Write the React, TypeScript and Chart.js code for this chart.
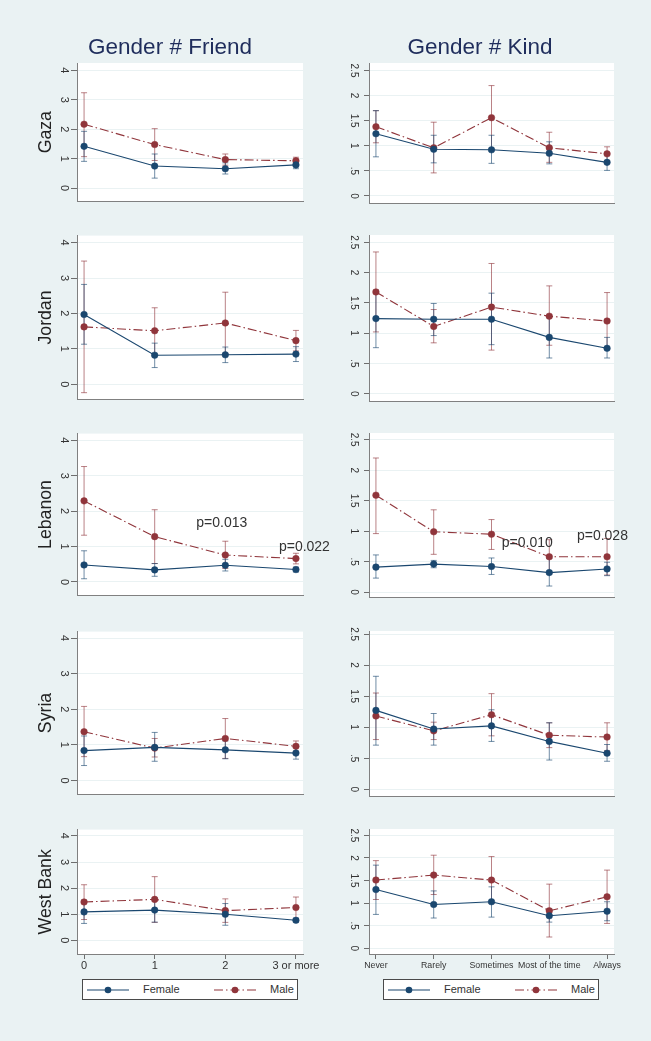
import React, { useEffect, useRef } from 'react';
import { Chart, registerables } from 'chart.js';

Chart.register(...registerables);
Chart.defaults.font.family = "'Liberation Sans', Arial, sans-serif";

// ---------- data ----------
const countries = ['Gaza', 'Jordan', 'Lebanon', 'Syria', 'West Bank'];
const panelTitles = ['Gender # Friend', 'Gender # Kind'];
const seriesNames = ['Female', 'Male'];

const friendCategories = ['0', '1', '2', '3 or more'];
const kindCategories = ['Never', 'Rarely', 'Sometimes', 'Most of the time', 'Always'];

const friendYTicks = [0, 1, 2, 3, 4];
const friendYTickLabels = ['0', '1', '2', '3', '4'];
const kindYTicks = [0, 0.5, 1, 1.5, 2, 2.5];
const kindYTickLabels = ['0', '.5', '1', '1.5', '2', '2.5'];

// rows: Gaza, Jordan, Lebanon, Syria, West Bank
const friendFemaleMean = [
  [1.42, 0.75, 0.66, 0.79],
  [1.97, 0.82, 0.83, 0.85],
  [0.48, 0.34, 0.47, 0.35],
  [0.84, 0.93, 0.86, 0.77],
  [1.09, 1.16, 1.0, 0.77],
];
const friendFemaleLow = [
  [0.91, 0.34, 0.48, 0.66],
  [1.13, 0.47, 0.61, 0.64],
  [0.09, 0.16, 0.31, 0.28],
  [0.42, 0.54, 0.61, 0.6],
  [0.65, 0.7, 0.58, 0.7],
];
const friendFemaleHigh = [
  [1.93, 1.16, 0.86, 0.94],
  [2.82, 1.16, 1.05, 1.06],
  [0.88, 0.52, 0.64, 0.42],
  [1.25, 1.35, 1.11, 0.94],
  [1.54, 1.62, 1.41, 0.85],
];
const friendMaleMean = [
  [2.17, 1.48, 0.97, 0.93],
  [1.62, 1.51, 1.73, 1.23],
  [2.29, 1.28, 0.76, 0.66],
  [1.37, 0.91, 1.18, 0.96],
  [1.47, 1.57, 1.14, 1.26],
];
const friendMaleLow = [
  [1.07, 0.94, 0.78, 0.8],
  [-0.24, 0.85, 0.86, 0.94],
  [1.32, 0.52, 0.38, 0.51],
  [0.67, 0.66, 0.62, 0.82],
  [0.8, 0.69, 0.69, 0.83],
];
const friendMaleHigh = [
  [3.24, 2.02, 1.16, 1.05],
  [3.48, 2.16, 2.6, 1.52],
  [3.26, 2.04, 1.15, 0.81],
  [2.08, 1.18, 1.74, 1.11],
  [2.13, 2.44, 1.59, 1.66],
];

const kindFemaleMean = [
  [1.24, 0.93, 0.92, 0.85, 0.67],
  [1.24, 1.23, 1.23, 0.93, 0.75],
  [0.41, 0.46, 0.42, 0.32, 0.38],
  [1.27, 0.97, 1.02, 0.77, 0.58],
  [1.3, 0.97, 1.03, 0.72, 0.82],
];
const kindFemaleLow = [
  [0.78, 0.66, 0.65, 0.64, 0.51],
  [0.76, 0.96, 0.81, 0.59, 0.59],
  [0.23, 0.4, 0.29, 0.1, 0.27],
  [0.71, 0.71, 0.77, 0.47, 0.45],
  [0.75, 0.67, 0.69, 0.58, 0.61],
];
const kindFemaleHigh = [
  [1.7, 1.21, 1.21, 1.08, 0.82],
  [1.71, 1.49, 1.66, 1.27, 0.93],
  [0.61, 0.52, 0.56, 0.55, 0.49],
  [1.82, 1.22, 1.28, 1.07, 0.72],
  [1.84, 1.27, 1.36, 0.87, 1.03],
];
const kindMaleMean = [
  [1.38, 0.96, 1.56, 0.96, 0.84],
  [1.68, 1.11, 1.43, 1.28, 1.2],
  [1.59, 0.99, 0.95, 0.58, 0.58],
  [1.18, 0.94, 1.2, 0.87, 0.84],
  [1.51, 1.62, 1.51, 0.83, 1.14],
];
const kindMaleLow = [
  [1.06, 0.46, 0.92, 0.67, 0.7],
  [1.02, 0.84, 0.72, 0.8, 0.73],
  [0.96, 0.62, 0.7, 0.3, 0.28],
  [0.8, 0.8, 0.86, 0.67, 0.62],
  [1.08, 1.19, 0.99, 0.25, 0.55],
];
const kindMaleHigh = [
  [1.7, 1.47, 2.2, 1.27, 0.98],
  [2.34, 1.39, 2.15, 1.78, 1.67],
  [2.2, 1.35, 1.19, 0.86, 0.88],
  [1.55, 1.08, 1.54, 1.07, 1.07],
  [1.94, 2.06, 2.03, 1.42, 1.73],
];

// p-value notes (in data coordinates)
type Note = { label: string; x: number; y: number };
const friendNotes: Note[][] = [
  [],
  [],
  [
    { label: 'p=0.013', x: 1.95, y: 1.66 },
    { label: 'p=0.022', x: 3.12, y: 0.99 },
  ],
  [],
  [],
];
const kindNotes: Note[][] = [
  [],
  [],
  [
    { label: 'p=0.010', x: 2.62, y: 0.81 },
    { label: 'p=0.028', x: 3.92, y: 0.915 },
  ],
  [],
  [],
];

// ---------- styling / layout ----------
const BG = '#eaf2f3';
const FEMALE = '#1a476f';
const MALE = '#90353b';
const FEMALE_CI = 'rgba(26,71,111,0.62)';
const MALE_CI = 'rgba(144,53,59,0.62)';
const AXIS = '#808080';
const TICK = '#6e6e6e';
const TEXT = '#333333';

// boxLeft chosen so that the title (centred between boxLeft and plotRight) sits where it should
const colSpec = [
  { left: 0, width: 340, boxLeft: 37, plotLeft: 77, plotRight: 303, xMin: -0.1, xMax: 3.1, tickLen: 6, tickPad: 4, tickFont: 11, xFont: 11, xPad: 0 },
  { left: 330, width: 300, boxLeft: 346, plotLeft: 369, plotRight: 614, xMin: -0.12, xMax: 4.12, tickLen: 5, tickPad: 3, tickFont: 10, xFont: 8.8, xPad: 1.5 },
];
const rowSpec = [
  { top: 63, bottom: 209 },
  { top: 235, bottom: 407 },
  { top: 433, bottom: 603 },
  { top: 631, bottom: 802 },
  { top: 829, bottom: 954 },
];
const friendRange = [
  [-0.45, 4.25],
  [-0.43, 4.2],
  [-0.38, 4.19],
  [-0.39, 4.18],
  [-0.52, 4.24],
];
const kindRange = [
  [-0.14, 2.65],
  [-0.12, 2.62],
  [-0.08, 2.61],
  [-0.11, 2.55],
  [-0.126, 2.64],
];

const X_AXIS_H = 22;
const LAST_BOTTOM = 978;

function ciData(low: number[], high: number[]) {
  const out: any[] = [];
  low.forEach((lo, i) => {
    out.push({ x: i, y: lo });
    out.push({ x: i, y: high[i] });
    out.push({ x: i, y: null });
  });
  return out;
}
function meanData(mean: number[]) {
  return mean.map((v, i) => ({ x: i, y: v }));
}

const plotBgPlugin = {
  id: 'plotBg',
  beforeDraw(chart: any) {
    const { ctx, chartArea } = chart;
    ctx.save();
    ctx.fillStyle = '#ffffff';
    ctx.fillRect(chartArea.left, chartArea.top, chartArea.right - chartArea.left, chartArea.bottom - chartArea.top);
    ctx.restore();
  },
};

const notesPlugin = {
  id: 'pNotes',
  afterDraw(chart: any, _args: any, opts: any) {
    const notes: Note[] = opts.notes || [];
    if (!notes.length) return;
    const { ctx, scales } = chart;
    ctx.save();
    ctx.font = "14px 'Liberation Sans', Arial, sans-serif";
    ctx.fillStyle = '#333333';
    ctx.textAlign = 'center';
    ctx.textBaseline = 'middle';
    notes.forEach((n) => {
      ctx.fillText(n.label, scales.x.getPixelForValue(n.x), scales.y.getPixelForValue(n.y));
    });
    ctx.restore();
  },
};

function buildConfig(col: number, row: number): any {
  const c = colSpec[col];
  const r = rowSpec[row];
  const isFriend = col === 0;
  const cats = isFriend ? friendCategories : kindCategories;
  const yTicks = isFriend ? friendYTicks : kindYTicks;
  const yLabels = isFriend ? friendYTickLabels : kindYTickLabels;
  const range = (isFriend ? friendRange : kindRange)[row];
  const fm = (isFriend ? friendFemaleMean : kindFemaleMean)[row];
  const fl = (isFriend ? friendFemaleLow : kindFemaleLow)[row];
  const fh = (isFriend ? friendFemaleHigh : kindFemaleHigh)[row];
  const mm = (isFriend ? friendMaleMean : kindMaleMean)[row];
  const ml = (isFriend ? friendMaleLow : kindMaleLow)[row];
  const mh = (isFriend ? friendMaleHigh : kindMaleHigh)[row];
  const notes = (isFriend ? friendNotes : kindNotes)[row];
  const isLast = row === rowSpec.length - 1;
  const canvasTop = row === 0 ? 0 : r.top - 10;
  const xH = isLast ? X_AXIS_H : 0;
  const padBottom = isLast ? LAST_BOTTOM - r.bottom - xH : 3;

  const titleFont = 22.5;
  const titleLH = titleFont * 1.2;
  const titleTopPad = 47.7 - titleLH / 2;
  const yTitleFont = 17.7;

  return {
    type: 'line',
    data: {
      datasets: [
        {
          label: seriesNames[0],
          data: meanData(fm),
          borderColor: FEMALE,
          backgroundColor: FEMALE,
          borderWidth: 1.1,
          pointRadius: 3.3,
          pointBackgroundColor: FEMALE,
          pointBorderColor: FEMALE,
          pointBorderWidth: 0.5,
          tension: 0,
        },
        {
          label: seriesNames[1],
          data: meanData(mm),
          borderColor: MALE,
          backgroundColor: MALE,
          borderWidth: 1.1,
          borderDash: [9, 3, 1.5, 3],
          pointRadius: 3.3,
          pointBackgroundColor: MALE,
          pointBorderColor: MALE,
          pointBorderWidth: 0.5,
          tension: 0,
        },
        {
          label: seriesNames[0] + ' CI',
          data: ciData(fl, fh),
          borderColor: FEMALE_CI,
          borderWidth: 1,
          pointStyle: 'line',
          pointRadius: 3,
          pointBorderColor: FEMALE_CI,
          pointBorderWidth: 1,
          spanGaps: false,
        },
        {
          label: seriesNames[1] + ' CI',
          data: ciData(ml, mh),
          borderColor: MALE_CI,
          borderWidth: 1,
          pointStyle: 'line',
          pointRadius: 3,
          pointBorderColor: MALE_CI,
          pointBorderWidth: 1,
          spanGaps: false,
        },
      ],
    },
    options: {
      responsive: false,
      animation: false,
      events: [],
      layout: {
        padding: {
          left: c.boxLeft - c.left,
          right: c.left + c.width - c.plotRight,
          top: row === 0 ? 0 : r.top - canvasTop,
          bottom: padBottom,
        },
      },
      plugins: {
        legend: { display: false },
        tooltip: { enabled: false },
        title: {
          display: row === 0,
          text: panelTitles[col],
          color: '#1f2d5c',
          font: { size: titleFont, weight: 'normal', lineHeight: 1.2 },
          padding: { top: titleTopPad, bottom: r.top - titleTopPad - titleLH },
        },
        pNotes: { notes },
      },
      scales: {
        x: {
          type: 'linear',
          min: c.xMin,
          max: c.xMax,
          afterBuildTicks: (scale: any) => {
            scale.ticks = cats.map((_, i) => ({ value: i }));
          },
          afterFit: (scale: any) => {
            scale.height = xH;
          },
          ticks: {
            display: isLast,
            autoSkip: false,
            minRotation: 0,
            maxRotation: 0,
            padding: c.xPad,
            color: TEXT,
            font: { size: c.xFont },
            callback: (v: any) => cats[v],
          },
          grid: {
            display: true,
            drawOnChartArea: false,
            drawTicks: isLast,
            tickLength: 5,
            tickColor: TICK,
            tickWidth: 1,
          },
          border: { display: true, color: AXIS, width: 1 },
        },
        y: {
          type: 'linear',
          min: range[0],
          max: range[1],
          afterBuildTicks: (scale: any) => {
            scale.ticks = yTicks.map((v) => ({ value: v }));
          },
          afterFit: (scale: any) => {
            scale.width = c.plotLeft - c.boxLeft;
          },
          ticks: {
            minRotation: -90,
            maxRotation: -90,
            crossAlign: 'center',
            padding: c.tickPad,
            color: TEXT,
            font: { size: c.tickFont },
            callback: (_v: any, i: number) => yLabels[i],
          },
          grid: {
            color: BG,
            lineWidth: 1,
            drawTicks: true,
            tickLength: c.tickLen,
            tickColor: TICK,
            tickWidth: 1,
          },
          border: { display: true, color: AXIS, width: 1 },
          title: {
            display: col === 0,
            text: countries[row],
            color: '#222222',
            font: { size: yTitleFont, lineHeight: 1 },
            padding: { top: 45.8 - c.boxLeft - yTitleFont / 2, bottom: 0 },
          },
        },
      },
    },
    plugins: [plotBgPlugin, notesPlugin],
  };
}

function Panel({ col, row }: { col: number; row: number }) {
  const ref = useRef<HTMLCanvasElement>(null);
  const c = colSpec[col];
  const r = rowSpec[row];
  const top = row === 0 ? 0 : r.top - 10;
  const bottom = row === rowSpec.length - 1 ? LAST_BOTTOM : r.bottom + 3;
  const h = bottom - top;
  useEffect(() => {
    const chart = new Chart(ref.current as HTMLCanvasElement, buildConfig(col, row));
    return () => chart.destroy();
  }, [col, row]);
  return (
    <canvas
      ref={ref}
      width={c.width}
      height={h}
      style={{ position: 'absolute', left: c.left, top, width: c.width, height: h }}
    />
  );
}

function Symbol({ color, dashed }: { color: string; dashed: boolean }) {
  return (
    <svg width={42} height={10} style={{ position: 'absolute', left: 0, top: 5 }}>
      <line
        x1={0}
        y1={5}
        x2={42}
        y2={5}
        stroke={color}
        strokeWidth={1.1}
        strokeDasharray={dashed ? '9 3 1.5 3' : undefined}
      />
      <circle cx={21} cy={5} r={3.3} fill={color} />
    </svg>
  );
}

function Legend({ left }: { left: number }) {
  const items = [
    { name: seriesNames[0], color: FEMALE, dashed: false, sym: 4, text: 60 },
    { name: seriesNames[1], color: MALE, dashed: true, sym: 131, text: 187 },
  ];
  return (
    <div
      style={{
        position: 'absolute',
        left,
        top: 979,
        width: 214,
        height: 19,
        background: '#ffffff',
        border: '1px solid #4a4a4a',
        fontFamily: "'Liberation Sans', Arial, sans-serif",
        fontSize: 11,
        color: TEXT,
      }}
    >
      {items.map((it) => (
        <React.Fragment key={it.name}>
          <div style={{ position: 'absolute', left: it.sym, top: 0, width: 42, height: 19 }}>
            <Symbol color={it.color} dashed={it.dashed} />
          </div>
          <div style={{ position: 'absolute', left: it.text, top: 3, lineHeight: '13px', whiteSpace: 'nowrap' }}>{it.name}</div>
        </React.Fragment>
      ))}
    </div>
  );
}

export default function App() {
  const panels: { col: number; row: number }[] = [];
  for (let row = 0; row < rowSpec.length; row++) {
    for (let col = 0; col < colSpec.length; col++) panels.push({ col, row });
  }
  return (
    <div
      style={{
        position: 'absolute',
        left: 0,
        top: 0,
        width: 651,
        height: 1041,
        background: BG,
        overflow: 'hidden',
      }}
    >
      {panels.map((p) => (
        <Panel key={`${p.col}-${p.row}`} col={p.col} row={p.row} />
      ))}
      <Legend left={82} />
      <Legend left={383} />
    </div>
  );
}
